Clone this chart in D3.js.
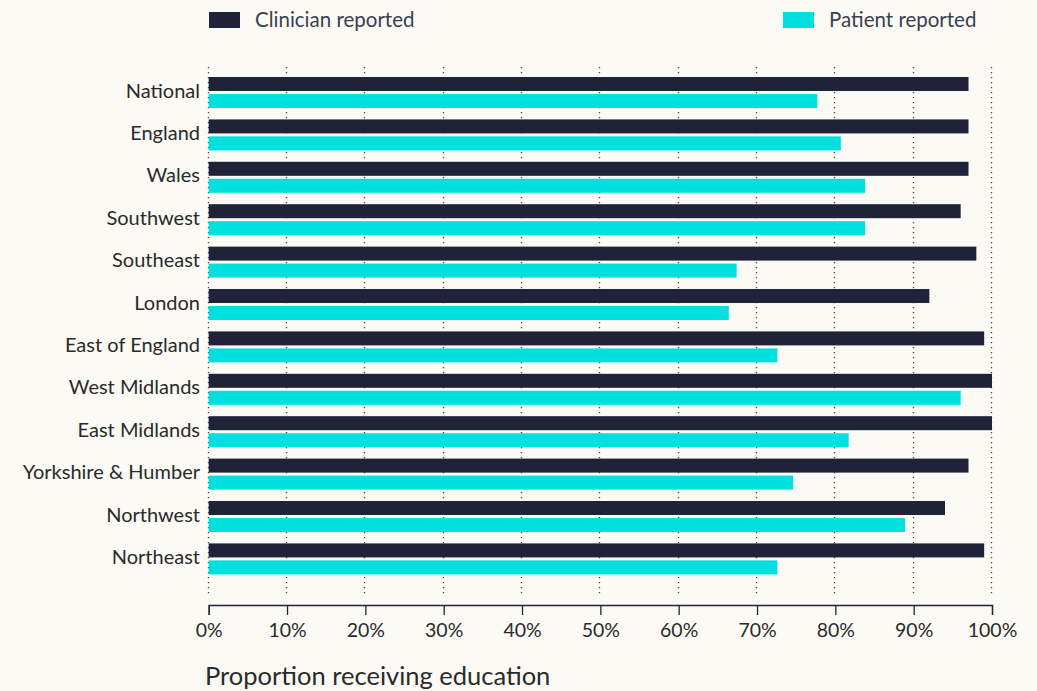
<!DOCTYPE html>
<html>
<head>
<meta charset="utf-8">
<script src="https://cdn.jsdelivr.net/npm/d3@7"></script>
<style>
body { margin:0; background:#fbfaf5; }
svg { display:block; }
text { font-family: Lato, "Open Sans", sans-serif; }
</style>
</head>
<body>
<div id="chart"></div>
<script>
var regions = ["National","England","Wales","Southwest","Southeast","London","East of England","West Midlands","East Midlands","Yorkshire & Humber","Northwest","Northeast"];
var seriesNames = ["Clinician reported","Patient reported"];
var clinician = [97, 97, 97, 96, 98, 92, 99, 100, 100, 97, 94, 99];
var patient = [77.7, 80.7, 83.8, 83.8, 67.4, 66.4, 72.6, 96.0, 81.7, 74.6, 88.9, 72.6];
var xTicks = [0,10,20,30,40,50,60,70,80,90,100];
var colors = ["#1f2339","#00e0e0"];

var width = 1037, height = 691;
var svg = d3.select("#chart").append("svg").attr("width",width).attr("height",height);
svg.append("rect").attr("width",width).attr("height",height).attr("fill","#fbfaf5");

var x = d3.scaleLinear().domain([0,100]).range([208.7, 992]);
var y = d3.scaleBand().domain(regions).range([71.3, 580.1]).padding(0);
var ySub = d3.scaleBand().domain(seriesNames).range([5.7, 36.7]).paddingInner(0.176);

// dotted grid
svg.append("g").selectAll("line")
	.data(xTicks)
	.enter()
	.append("line")
	.attr("x1",function(d){ return Math.round(x(d))-0.5; })
	.attr("x2",function(d){ return Math.round(x(d))-0.5; })
	.attr("y1",67)
	.attr("y2",594)
	.attr("stroke","#444")
	.attr("stroke-width",1.3)
	.attr("stroke-dasharray","1.3,3.7");

// bars
var groups = svg.append("g").selectAll("g")
	.data(regions)
	.enter()
	.append("g")
	.attr("transform",function(d){ return "translate(0,"+y(d)+")"; });

groups.each(function(d,i) {
	var vals = [clinician[i], patient[i]];
	d3.select(this).selectAll("rect")
		.data(vals)
		.enter()
		.append("rect")
		.attr("x",x(0))
		.attr("y",function(v,j){ return ySub(seriesNames[j]); })
		.attr("width",function(v){ return x(v)-x(0); })
		.attr("height",ySub.bandwidth())
		.attr("fill",function(v,j){ return colors[j]; });
});

// category labels
svg.append("g").selectAll("text")
	.data(regions)
	.enter()
	.append("text")
	.attr("x",200)
	.attr("y",function(d){ return y(d)+y.bandwidth()/2 - 2; })
	.attr("dy","0.35em")
	.attr("text-anchor","end")
	.attr("font-size",20)
	.attr("fill","#2a2a2a")
	.text(function(d){ return d; });

// x axis
var xAxis = d3.axisBottom(x)
	.tickValues(xTicks)
	.tickFormat(function(d){ return d+"%"; })
	.tickSize(10)
	.tickPadding(8);
var axisG = svg.append("g")
	.attr("transform","translate(0,605)")
	.call(xAxis);
axisG.select(".domain").attr("stroke","#1f2339").attr("stroke-width",1.3);
axisG.selectAll(".tick line").attr("stroke","#1f2339").attr("stroke-width",1.3);
axisG.selectAll(".tick text")
	.attr("font-size",19.5)
	.attr("fill","#2a2a2a")
	.style("font-family","Lato, 'Open Sans', sans-serif");

svg.append("text")
	.attr("x",205)
	.attr("y",685)
	.attr("font-size",25.5)
	.attr("fill","#2a2a2a")
	.text("Proportion receiving education");

// legend
var legendX = [209, 783];
var legend = svg.append("g").selectAll("g")
	.data(seriesNames)
	.enter()
	.append("g")
	.attr("transform",function(d,i){ return "translate("+legendX[i]+",12)"; });
legend.append("rect")
	.attr("width",31)
	.attr("height",16)
	.attr("fill",function(d,i){ return colors[i]; });
legend.append("text")
	.attr("x",46)
	.attr("y",8)
	.attr("dy","0.35em")
	.attr("font-size",20.5)
	.attr("fill","#3a3f4f")
	.text(function(d){ return d; });
</script>
</body>
</html>
